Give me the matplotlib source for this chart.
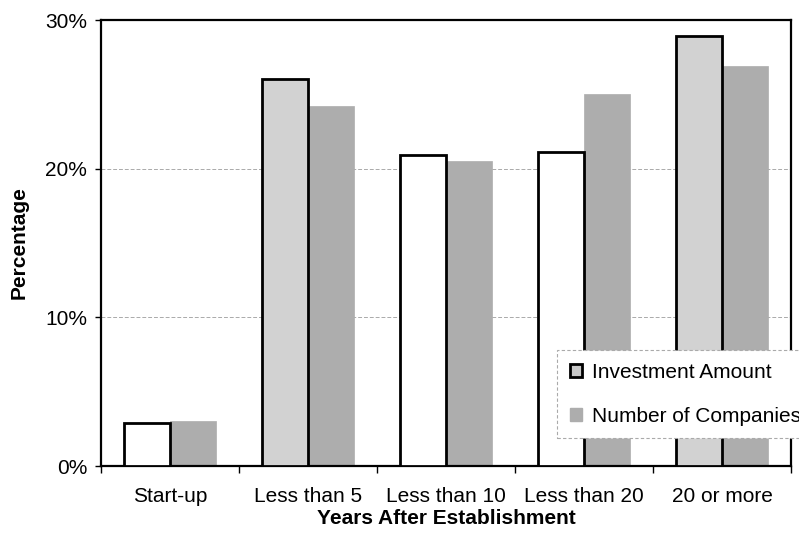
import matplotlib
matplotlib.use("Agg")
import matplotlib.pyplot as plt
import numpy as np
from matplotlib.patches import Patch

categories = ["Start-up", "Less than 5", "Less than 10", "Less than 20", "20 or more"]
investment = [2.9, 26.0, 20.9, 21.1, 28.9]
companies = [3.0, 24.2, 20.5, 25.0, 26.9]
y_ticks = [0, 10, 20, 30]
y_tick_labels = ["0%", "10%", "20%", "30%"]

# styling (per-bar fill for investment bars as in the scanned original)
inv_fill = ["#ffffff", "#d2d2d2", "#ffffff", "#ffffff", "#d2d2d2"]
comp_fill = "#adadad"

plt.rcParams["font.family"] = ["Liberation Sans", "DejaVu Sans"]
FS = 15

fig = plt.figure(figsize=(7.99, 5.46), dpi=100)
ax = fig.add_axes([101/799, 1-466/546, 690/799, 446/546])

x = np.arange(len(categories))
w = 1/3
ax.bar(x - w/2, investment, width=w, color=inv_fill, edgecolor="black", linewidth=2.0, zorder=3)
ax.bar(x + w/2, companies, width=w, color=comp_fill, edgecolor=comp_fill, linewidth=0.5, zorder=2)

ax.set_xlim(-0.5, len(categories) - 0.5)
ax.set_ylim(0, 30)
ax.set_yticks(y_ticks)
ax.set_yticklabels(y_tick_labels, fontsize=FS)
ax.set_xticks(x)
ax.set_xticklabels(categories, fontsize=FS)
ax.set_xticks(np.arange(len(categories) + 1) - 0.5, minor=True)
ax.tick_params(axis="x", which="major", length=0, pad=15)
ax.tick_params(axis="x", which="minor", length=5, width=1, direction="out")
ax.tick_params(axis="y", which="major", length=4, width=1, direction="out", pad=6)

ax.yaxis.grid(True, color="#aaaaaa", linestyle=(0, (4, 2)), linewidth=0.7, zorder=0)
ax.set_axisbelow(True)
for s in ax.spines.values():
    s.set_linewidth(1.6)
    s.set_color("black")

ax.set_ylabel("Percentage", fontsize=FS, fontweight="bold", labelpad=12)
ax.set_xlabel("Years After Establishment", fontsize=FS, fontweight="bold", labelpad=2)

handles = [Patch(facecolor="#c8c8c8", edgecolor="black", linewidth=2.0),
           Patch(facecolor=comp_fill, edgecolor=comp_fill)]
leg = ax.legend(handles, ["Investment Amount", "Number of Companies"],
                loc="upper left", bbox_to_anchor=(557/799, 1-350/546),
                bbox_transform=fig.transFigure, fontsize=FS, frameon=True,
                fancybox=False, framealpha=1, edgecolor="#aaaaaa",
                handlelength=0.6, handleheight=0.6, handletextpad=0.5,
                labelspacing=1.2, borderpad=0.6, borderaxespad=0)
leg.get_frame().set_linestyle((0, (3, 2)))
leg.get_frame().set_linewidth(0.8)
leg.set_zorder(5)

fig.savefig("out.png", dpi=100)
